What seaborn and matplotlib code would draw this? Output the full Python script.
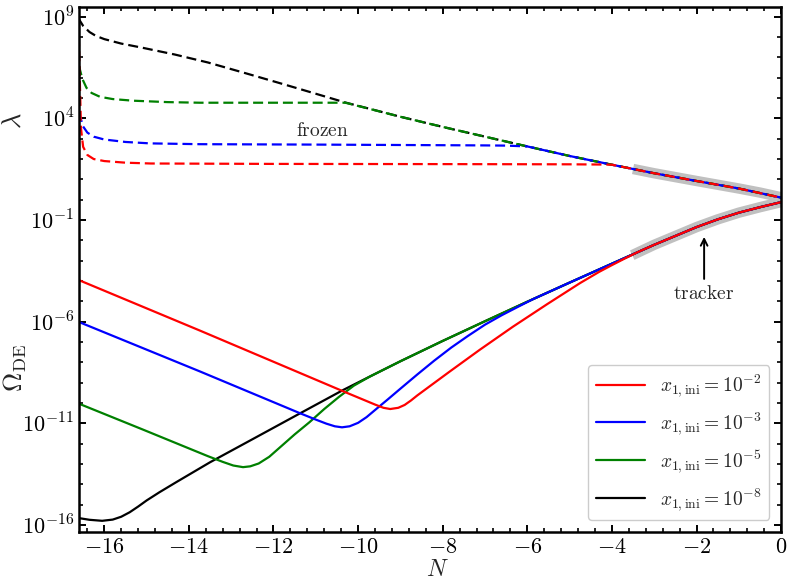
import numpy as np
import pandas as pd
import matplotlib
matplotlib.use("Agg")
import matplotlib.pyplot as plt
import matplotlib.ticker as mticker
import seaborn as sns

# ---------------- data (N, log10 value) ----------------
labels = [r"$x_{1,\mathrm{ini}}=10^{-2}$", r"$x_{1,\mathrm{ini}}=10^{-3}$",
          r"$x_{1,\mathrm{ini}}=10^{-5}$", r"$x_{1,\mathrm{ini}}=10^{-8}$"]
colors = ["red", "blue", "green", "black"]

# lambda (dashed)
red_lam_N = [-16.62, -16.58, -16.55, -16.5, -16.4, -16.25, -16.0, -15.5, -14.9, -12.0, -8.0, -5.0, -4.3,
             -4.0, -3.0, -2.0, -1.0, 0.0]
red_lam_lg = [9.5, 6.0, 3.5, 2.6, 2.2, 2.0, 1.9, 1.82, 1.78, 1.76, 1.75, 1.74, 1.73,
              1.72, 1.3, 0.92, 0.55, 0.1]
blue_lam_N = [-16.6, -16.5, -16.4, -16.25, -16.0, -15.5, -14.92, -13.74, -11.0, -9.0, -7.0, -6.5,
              -6.0, -5.0, -4.0, -3.0, -2.0, -1.0, 0.0]
blue_lam_lg = [4.3, 3.6, 3.3, 3.1, 2.96, 2.84, 2.77, 2.73, 2.71, 2.69, 2.67, 2.66,
               2.62, 2.15, 1.72, 1.3, 0.92, 0.55, 0.1]
green_lam_N = [-16.6, -16.52, -16.42, -16.3, -16.1, -15.8, -15.32, -14.5, -13.74, -12.0, -10.3,
               -9.0, -8.0, -7.0, -6.0, -5.0, -4.0, -3.0, -2.0, -1.0, 0.0]
green_lam_lg = [6.6, 5.95, 5.5, 5.25, 5.06, 4.95, 4.87, 4.8, 4.77, 4.77, 4.77,
                4.08, 3.58, 3.1, 2.62, 2.15, 1.72, 1.3, 0.92, 0.55, 0.1]
black_lam_N = [-16.62, -16.5, -16.35, -16.2, -16.0, -15.6, -15.11, -14.33, -13.55, -12.74, -11.96,
               -11.37, -10.3, -9.0, -8.0, -7.0, -6.0, -5.0, -4.0, -3.0, -2.0, -1.0, 0.0]
black_lam_lg = [8.95, 8.55, 8.25, 8.06, 7.9, 7.68, 7.48, 7.14, 6.75, 6.27, 5.8,
                5.44, 4.78, 4.08, 3.58, 3.1, 2.62, 2.15, 1.72, 1.3, 0.92, 0.55, 0.1]

# Omega_DE (solid)
red_om_N = [-16.62, -13.74, -10.35, -9.9, -9.6, -9.4, -9.24, -9.05, -8.9, -8.75, -8.6, -8.3, -7.83,
            -7.12, -6.34, -5.53, -4.75, -4.3, -4.0, -3.7, -3.4, -3.0, -2.0, -1.5, -1.0, -0.5, 0.0]
red_om_lg = [-3.94, -6.44, -9.43, -9.82, -10.08, -10.24, -10.3, -10.24, -10.1, -9.88, -9.63, -9.17, -8.45,
             -7.38, -6.25, -5.14, -4.1, -3.55, -3.22, -2.9, -2.59, -2.22, -1.35, -0.97, -0.64, -0.37, -0.12]
blue_om_N = [-16.62, -13.74, -11.37, -11.0, -10.75, -10.55, -10.38, -10.2, -10.0, -9.8, -9.6, -9.3, -9.0,
             -8.6, -8.2, -7.8, -7.4, -7.0, -6.6, -6.2, -5.86, -5.0, -4.0, -3.0, -2.0, -1.5, -1.0, -0.5, 0.0]
blue_om_lg = [-6.0, -8.45, -10.51, -10.82, -11.02, -11.15, -11.2, -11.15, -10.98, -10.7, -10.35, -9.83, -9.3,
              -8.6, -7.92, -7.28, -6.7, -6.15, -5.68, -5.25, -4.89, -4.08, -3.15, -2.22, -1.35, -0.97, -0.64, -0.37, -0.12]
green_om_N = [-16.62, -15.1, -13.55, -13.2, -12.95, -12.72, -12.55, -12.35, -12.1, -11.8, -11.5, -11.15,
              -10.8, -10.45, -10.1, -9.72, -9.0, -8.0, -7.0, -6.0, -5.0, -4.0, -3.0, -2.0, -1.5, -1.0, -0.5, 0.0]
green_om_lg = [-10.02, -11.3, -12.62, -12.9, -13.08, -13.16, -13.12, -12.98, -12.65, -12.1, -11.55, -10.95,
               -10.3, -9.7, -9.15, -8.7, -7.95, -6.95, -5.98, -5.02, -4.08, -3.15, -2.22, -1.35, -0.97, -0.64, -0.37, -0.12]
black_om_N = [-16.62, -16.35, -16.05, -15.8, -15.6, -15.4, -15.2, -15.0, -14.7, -14.3, -13.5, -12.5,
              -11.37, -10.35, -9.72, -9.0, -8.0, -7.0, -6.0, -5.0, -4.0, -3.0, -2.0, -1.5, -1.0, -0.5, 0.0]
black_om_lg = [-15.66, -15.75, -15.8, -15.74, -15.6, -15.38, -15.1, -14.8, -14.4, -13.9, -12.92, -11.79,
               -10.51, -9.36, -8.7, -7.95, -6.95, -5.98, -5.02, -4.08, -3.15, -2.22, -1.35, -0.97, -0.64, -0.37, -0.12]

# tracker (gray)
trk_lam_N = [-3.5, -3.0, -2.0, -1.0, -0.5, 0.0]
trk_lam_lg = [1.51, 1.3, 0.92, 0.55, 0.35, 0.12]
trk_om_N = [-3.52, -3.0, -2.0, -1.5, -1.0, -0.5, 0.0]
trk_om_lg = [-2.73, -2.22, -1.35, -0.97, -0.64, -0.37, -0.12]

xticks = [-16, -14, -12, -10, -8, -6, -4, -2, 0]
yticks_exp = [-16, -11, -6, -1, 4, 9]

# ---------------- style ----------------
sns.set_theme(style="ticks")
plt.rcParams.update({
    "font.family": ["DejaVu Serif"],
    "mathtext.fontset": "cm",
    "xtick.direction": "in", "ytick.direction": "in",
    "xtick.top": True, "ytick.right": True,
    "xtick.major.size": 5, "ytick.major.size": 5,
    "xtick.minor.size": 3, "ytick.minor.size": 3,
    "xtick.major.width": 1.4, "ytick.major.width": 1.4,
    "xtick.minor.width": 1.2, "ytick.minor.width": 1.2,
    "axes.linewidth": 1.8,
    "axes.edgecolor": "black",
})

fig = plt.figure(figsize=(7.89, 5.83), dpi=100)
ax = fig.add_axes([0.100, 0.0875, 0.890, 0.9005])
ax.set_yscale("log")

def draw(N, lg, **kw):
    df = pd.DataFrame({"N": N, "v": 10.0 ** np.asarray(lg)})
    sns.lineplot(data=df, x="N", y="v", ax=ax, estimator=None, sort=False, **kw)
    return ax.lines[-1]

draw(trk_lam_N, trk_lam_lg, color="#c0c0c0", linewidth=7.5, solid_capstyle="butt")
draw(trk_om_N, trk_om_lg, color="#c0c0c0", linewidth=7.5, solid_capstyle="butt")

lam = [(red_lam_N, red_lam_lg), (blue_lam_N, blue_lam_lg), (green_lam_N, green_lam_lg), (black_lam_N, black_lam_lg)]
om = [(red_om_N, red_om_lg), (blue_om_N, blue_om_lg), (green_om_N, green_om_lg), (black_om_N, black_om_lg)]

handles = [None] * 4
for i in [3, 2, 1, 0]:
    l = draw(*lam[i], color=colors[i], linewidth=1.6)
    l.set_linestyle((0, (4.5, 2.2)))
for i in [3, 2, 1, 0]:
    handles[i] = draw(*om[i], color=colors[i], linewidth=1.6)

ax.set_xlim(-16.6, 0)
ax.set_ylim(10 ** -16.35, 10 ** 9.48)
ax.set_xlabel("")
ax.set_ylabel("")

ax.xaxis.set_major_locator(mticker.FixedLocator(xticks))
ax.xaxis.set_minor_locator(mticker.AutoMinorLocator(5))
ax.xaxis.set_major_formatter(mticker.FuncFormatter(lambda v, p: f"${v:g}$"))
ax.yaxis.set_major_locator(mticker.FixedLocator([10.0 ** e for e in yticks_exp]))
ax.yaxis.set_minor_locator(mticker.LogLocator(base=10, subs=(1.0,), numticks=60))
ax.yaxis.set_minor_formatter(mticker.NullFormatter())
ax.yaxis.set_major_formatter(mticker.FuncFormatter(lambda v, p: f"$10^{{{int(round(np.log10(v)))}}}$"))
ax.tick_params(which="both", top=True, right=True, direction="in", labelsize=16, colors="black")
ax.tick_params(axis="x", pad=3)

for s in ax.spines.values():
    s.set_visible(True)
    s.set_linewidth(1.8)

fig.text(437 / 789, 2 / 583, r"$N$", ha="center", va="bottom", fontsize=17)
fig.text(13 / 789, 1 - 121 / 583, r"$\lambda$", ha="center", va="center", fontsize=19, rotation=90)
fig.text(15 / 789, 1 - 368 / 583, r"$\Omega_{\mathrm{DE}}$", ha="center", va="center", fontsize=19, rotation=90)

ax.text(-10.85, 10 ** 3.36, r"$\mathrm{frozen}$", ha="center", va="center", fontsize=14)
ax.text(-1.84, 10 ** -4.63, r"$\mathrm{tracker}$", ha="center", va="center", fontsize=14)
ax.annotate("", xy=(-1.82, 10 ** -1.83), xytext=(-1.82, 10 ** -3.9),
            arrowprops=dict(arrowstyle="->", lw=1.4, color="black", shrinkA=0, shrinkB=0))

leg = ax.legend(handles=handles, labels=labels, loc="lower right", fontsize=14,
                handlelength=2.5, labelspacing=0.55, frameon=True, fancybox=True,
                edgecolor="0.8", framealpha=1.0, borderaxespad=0.6)

fig.savefig("out.png", dpi=100)
